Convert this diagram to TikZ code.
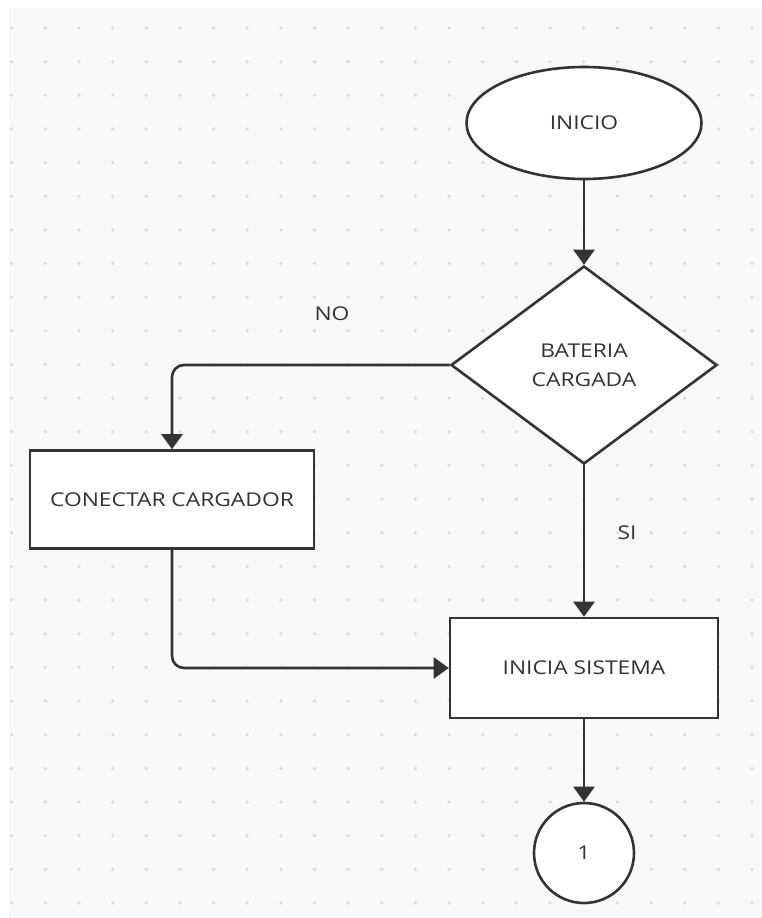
\documentclass[tikz,border=0pt]{standalone}
\usepackage{fontspec}
\setmainfont{Open Sans}[FakeStretch=1.2]
\usetikzlibrary{shapes.geometric,arrows.meta}
\definecolor{ink}{HTML}{333333}
\definecolor{canvas}{HTML}{F8F8FA}
\definecolor{griddot}{HTML}{D9D9DD}
\begin{document}
\begin{tikzpicture}[x=1pt,y=-1pt,
  shapeline/.style={draw=ink,line width=2.6pt,fill=white,text=ink,inner sep=0pt,
    font=\fontsize{19}{29}\selectfont,align=center},
  flow/.style={draw=ink,line width=2.6pt,rounded corners=12pt,
    -{Triangle[length=15pt,width=21pt]}},
  lbl/.style={text=ink,font=\fontsize{19}{29}\selectfont}]
% canvas and dotted grid
\useasboundingbox (0,0) rectangle (762,918);
\fill[canvas] (9,8) rectangle (762,918);
\foreach \i in {0,...,22}
  \foreach \j in {0,...,26}
    \fill[griddot] (11.7+33.65*\i,28+33.65*\j) circle (1.7pt);
% flowchart nodes
\node[shapeline,ellipse,minimum width=235,minimum height=112] (start) at (584,123) {INICIO};
\node[shapeline,diamond,minimum width=266,minimum height=198] (dec) at (584,365) {BATERIA\\CARGADA};
\node[shapeline,rectangle,minimum width=284,minimum height=98] (conn) at (172,499.5) {CONECTAR CARGADOR};
\node[shapeline,rectangle,minimum width=268,minimum height=100] (init) at (584,668) {INICIA SISTEMA};
\node[shapeline,circle,minimum size=100] (end) at (584,853) {1};
% connectors
\draw[flow] (start) -- (dec);
\draw[flow] (dec.west) -| (conn.north);
\draw[flow] (dec.south) -- (init.north);
\draw[flow] (conn.south) |- (init.west);
\draw[flow] (init.south) -- (end.north);
% branch labels
\node[lbl] (no) at (332,314) {NO};
\node[lbl] (si) at (627,533) {SI};
\end{tikzpicture}
\end{document}
